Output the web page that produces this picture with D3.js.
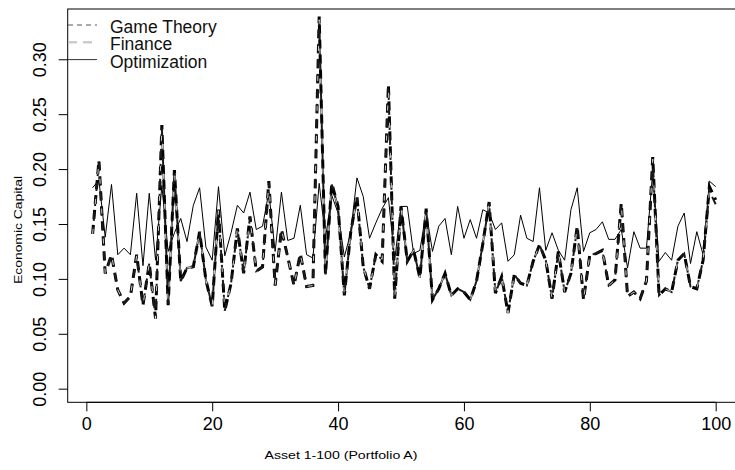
<!DOCTYPE html>
<html>
<head>
<meta charset="utf-8">
<script src="https://cdn.jsdelivr.net/npm/d3@7"></script>
<style>
  body { margin: 0; background: #fff; }
  svg { display: block; font-family: "Liberation Sans", Arial, sans-serif; }
</style>
</head>
<body>
<svg id="chart" width="735" height="470"></svg>
<script>
"use strict";

// economic capital per asset
const assets = d3.range(1, 101);

const gameTheory = [
  0.141, 0.208, 0.105, 0.122, 0.090, 0.078, 0.084, 0.122, 0.076, 0.114,
  0.064, 0.240, 0.076, 0.199, 0.098, 0.110, 0.111, 0.143, 0.099, 0.075,
  0.163, 0.071, 0.096, 0.146, 0.105, 0.157, 0.107, 0.111, 0.189, 0.094,
  0.145, 0.120, 0.094, 0.123, 0.093, 0.094, 0.339, 0.104, 0.187, 0.166,
  0.085, 0.142, 0.175, 0.111, 0.091, 0.122, 0.116, 0.277, 0.082, 0.166,
  0.116, 0.126, 0.101, 0.164, 0.081, 0.091, 0.105, 0.085, 0.091, 0.088,
  0.081, 0.098, 0.132, 0.170, 0.087, 0.102, 0.069, 0.104, 0.096, 0.094,
  0.116, 0.131, 0.117, 0.082, 0.125, 0.088, 0.105, 0.148, 0.081, 0.122,
  0.123, 0.126, 0.094, 0.099, 0.169, 0.084, 0.088, 0.082, 0.098, 0.211,
  0.085, 0.091, 0.088, 0.117, 0.123, 0.093, 0.091, 0.117, 0.184, 0.172
];

const finance = [
  0.141, 0.207, 0.105, 0.122, 0.090, 0.078, 0.084, 0.121, 0.076, 0.114,
  0.064, 0.238, 0.076, 0.198, 0.098, 0.110, 0.111, 0.143, 0.099, 0.075,
  0.162, 0.071, 0.096, 0.146, 0.105, 0.156, 0.107, 0.111, 0.188, 0.094,
  0.145, 0.120, 0.094, 0.123, 0.093, 0.094, 0.336, 0.104, 0.186, 0.165,
  0.085, 0.142, 0.174, 0.111, 0.091, 0.122, 0.118, 0.275, 0.082, 0.165,
  0.116, 0.126, 0.101, 0.163, 0.081, 0.091, 0.105, 0.085, 0.091, 0.088,
  0.081, 0.098, 0.132, 0.169, 0.087, 0.102, 0.069, 0.104, 0.096, 0.094,
  0.116, 0.131, 0.117, 0.082, 0.125, 0.088, 0.105, 0.147, 0.081, 0.122,
  0.123, 0.126, 0.094, 0.099, 0.168, 0.084, 0.088, 0.082, 0.098, 0.209,
  0.085, 0.091, 0.088, 0.117, 0.123, 0.093, 0.091, 0.117, 0.180, 0.168
];

const optimization = [
  0.183, 0.190, 0.138, 0.186, 0.122, 0.128, 0.122, 0.178, 0.112, 0.178,
  0.117, 0.185, 0.125, 0.142, 0.155, 0.134, 0.167, 0.183, 0.129, 0.117,
  0.184, 0.121, 0.142, 0.167, 0.160, 0.179, 0.145, 0.148, 0.179, 0.125,
  0.179, 0.135, 0.137, 0.167, 0.122, 0.119, 0.187, 0.137, 0.176, 0.160,
  0.120, 0.142, 0.192, 0.175, 0.137, 0.151, 0.164, 0.174, 0.117, 0.166,
  0.166, 0.123, 0.126, 0.161, 0.125, 0.148, 0.155, 0.122, 0.166, 0.137,
  0.154, 0.137, 0.163, 0.160, 0.145, 0.151, 0.116, 0.122, 0.158, 0.137,
  0.134, 0.183, 0.126, 0.142, 0.126, 0.117, 0.163, 0.183, 0.125, 0.142,
  0.145, 0.152, 0.136, 0.136, 0.145, 0.110, 0.143, 0.128, 0.128, 0.198,
  0.116, 0.124, 0.117, 0.148, 0.160, 0.114, 0.143, 0.122, 0.189, 0.184
];

const xTicks = [0, 20, 40, 60, 80, 100];
const yTicks = [0, 0.05, 0.10, 0.15, 0.20, 0.25, 0.30];
const legendNames = ["Game Theory", "Finance", "Optimization"];

// plot region (R style, 4% padding on both axes)
const box = {left: 67.7, right: 740.6, top: 9, bottom: 402.3};

const svg = d3.select("#chart");

const x = d3.scaleLinear()
  .domain([-2.96, 103.96])
  .range([box.left, box.right]);

const y = d3.scaleLinear()
  .domain([-0.0124, 0.3458])
  .range([box.bottom, box.top]);

// series lines
const line = vals => d3.line()
  .x((d, i) => x(assets[i]))
  .y(d => y(d))(vals);

svg.append("path")
  .attr("d", line(optimization))
  .attr("fill", "none")
  .attr("stroke", "#000")
  .attr("stroke-width", 1);

svg.append("path")
  .attr("d", line(gameTheory))
  .attr("fill", "none")
  .attr("stroke", "#000")
  .attr("stroke-width", 3)
  .attr("stroke-dasharray", "9,6");

svg.append("path")
  .attr("d", line(finance))
  .attr("fill", "none")
  .attr("stroke", "#1a1a1a")
  .attr("stroke-width", 2)
  .attr("stroke-dasharray", "9,6")
  .attr("stroke-dashoffset", 2);

svg.append("path")
  .attr("d", line(finance))
  .attr("fill", "none")
  .attr("stroke", "#f4f4f4")
  .attr("stroke-width", 0.8)
  .attr("stroke-dasharray", "5,25");

// box
svg.append("rect")
  .attr("x", box.left)
  .attr("y", box.top)
  .attr("width", box.right - box.left)
  .attr("height", box.bottom - box.top)
  .attr("fill", "none")
  .attr("stroke", "#000")
  .attr("stroke-width", 1);

// x axis
const xAxis = svg.append("g")
  .attr("transform", `translate(0,${box.bottom})`)
  .call(d3.axisBottom(x).tickValues(xTicks).tickSize(9).tickPadding(6).tickFormat(d3.format("d")));
xAxis.select(".domain").remove();
xAxis.append("line")
  .attr("x1", x(0)).attr("x2", x(100))
  .attr("stroke", "#000");
xAxis.selectAll("text")
  .attr("font-size", 18)
  .attr("font-family", "Liberation Sans, Arial, sans-serif")
  .attr("fill", "#000");

// y axis
const yAxis = svg.append("g")
  .attr("transform", `translate(${box.left},0)`)
  .call(d3.axisLeft(y).tickValues(yTicks).tickSize(9).tickFormat(d3.format(".2f")));
yAxis.select(".domain").remove();
yAxis.selectAll("text")
  .attr("font-size", 18)
  .attr("font-family", "Liberation Sans, Arial, sans-serif")
  .attr("fill", "#000")
  .attr("text-anchor", "middle")
  .attr("dy", null)
  .attr("x", null)
  .attr("transform", "translate(-22,0) rotate(-90)");

// axis titles
svg.append("text")
  .attr("x", 341)
  .attr("y", 459)
  .attr("text-anchor", "middle")
  .attr("font-size", 11)
  .attr("fill", "#000")
  .attr("textLength", 153)
  .attr("lengthAdjust", "spacingAndGlyphs")
  .text("Asset 1-100 (Portfolio A)");

svg.append("text")
  .attr("transform", "translate(21.5,230) rotate(-90)")
  .attr("text-anchor", "middle")
  .attr("font-size", 11)
  .attr("fill", "#000")
  .attr("textLength", 108)
  .attr("lengthAdjust", "spacingAndGlyphs")
  .text("Economic Capital");

// legend, no frame
const legendStyle = [
  {color: "#555", width: 1, dash: "5,4"},
  {color: "#ccc", width: 2.5, dash: "9,6"},
  {color: "#333", width: 1, dash: null}
];
const legend = svg.append("g");
legendNames.forEach((name, i) => {
  const ly = 25 + i * 17.3;
  legend.append("line")
    .attr("x1", 68).attr("x2", 97)
    .attr("y1", ly).attr("y2", ly)
    .attr("stroke", legendStyle[i].color)
    .attr("stroke-width", legendStyle[i].width)
    .attr("stroke-dasharray", legendStyle[i].dash);
  legend.append("text")
    .attr("x", 110)
    .attr("y", ly + 8)
    .attr("font-size", 17.5)
    .attr("fill", "#111")
    .text(name);
});
</script>
</body>
</html>
